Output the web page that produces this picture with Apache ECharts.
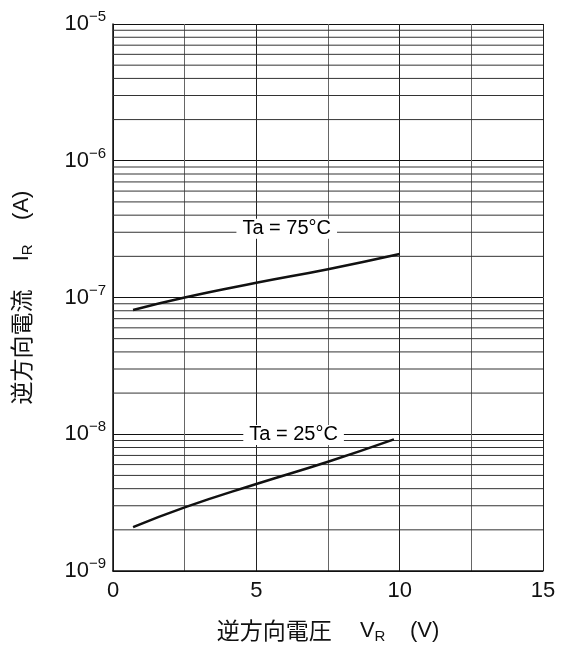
<!DOCTYPE html>
<html>
<head>
<meta charset="utf-8">
<script src="https://cdn.jsdelivr.net/npm/echarts@6/dist/echarts.min.js"></script>
<style>
html,body{margin:0;padding:0;background:#fff;}
#c{width:567px;height:653px;}
</style>
</head>
<body>
<div id="c"></div>
<script>
// X axis (reverse voltage, V)
const xTicks = [0, 5, 10, 15];
const xRange = [0, 15];
// Y axis decades (reverse current, A)
const yDecades = [1e-9, 1e-8, 1e-7, 1e-6, 1e-5];
// Curves: [V_R, I_R]
const vr75 = [0.7, 2.5, 5, 7.5, 10];
const ir75 = [8.1e-8, 1.0e-7, 1.28e-7, 1.61e-7, 2.08e-7];
const vr25 = [0.7, 2.5, 5, 7.5, 9.8];
const ir25 = [2.09e-9, 2.92e-9, 4.33e-9, 6.3e-9, 9.18e-9];
// Annotations
const labels = ['Ta = 75°C', 'Ta = 25°C'];
const labelX = [6.06, 6.3];
const labelY = [3.18e-7, 9.88e-9];
// Minor grid multipliers within each decade
const minorMult = [2, 3, 4, 5, 6, 7, 8, 9];

const FONT = '"Liberation Sans", Arial, "Noto Sans CJK JP", sans-serif';
const CJK = '"Noto Sans CJK JP", sans-serif';
const INK = '#111';
const zip = (a, b) => a.map((v, i) => [v, b[i]]);

const minorSeries = [];
for (let d = 0; d < yDecades.length - 1; d++) {
  for (const m of minorMult) {
    const v = yDecades[d] * m;
    minorSeries.push({
      type: 'line', silent: true, showSymbol: false, z: 1,
      lineStyle: { color: '#333', width: 1 },
      emphasis: { disabled: true },
      data: [[xRange[0], v], [xRange[1], v]]
    });
  }
}
const titleRich = {
  c: { fontSize: 23, fontFamily: CJK, color: INK },
  v: { fontSize: 22, fontFamily: FONT, color: INK },
  sub: { fontSize: 15, fontFamily: FONT, color: INK, padding: [12, 0, 0, 0] }
};

const chart = echarts.init(document.getElementById('c'));
chart.setOption({
  animation: false,
  backgroundColor: '#fff',
  textStyle: { fontFamily: FONT },
  grid: { left: 113, right: 24, top: 24, bottom: 82 },
  xAxis: {
    type: 'value', min: 0, max: 15, interval: 2.5,
    axisLine: { show: true, lineStyle: { color: INK, width: 1.5 } },
    axisTick: { show: false },
    axisLabel: {
      color: INK, fontSize: 22, margin: 9, fontFamily: FONT,
      formatter: v => (xTicks.indexOf(v) >= 0 ? String(v) : '')
    },
    splitLine: { show: true, lineStyle: { color: ['#222', '#666'], width: 1 } },
    name: '{c|逆方向電圧　 }{v|V}{sub|R}{v|    (V)}',
    nameLocation: 'middle', nameGap: 46,
    nameTextStyle: { color: INK, fontSize: 22, fontFamily: FONT, rich: titleRich }
  },
  yAxis: {
    type: 'log', logBase: 10, min: 1e-9, max: 1e-5,
    axisLine: { show: true, lineStyle: { color: INK, width: 1.5 } },
    axisTick: { show: false },
    axisLabel: {
      margin: 7,
      formatter: v => {
        const e = Math.round(Math.log10(v));
        return '{b|10}{s|−' + Math.abs(e) + '}';
      },
      rich: {
        b: { fontSize: 22, fontFamily: FONT, color: INK },
        s: { fontSize: 15, fontFamily: FONT, color: INK, padding: [0, 0, 14, 0] }
      }
    },
    splitLine: { show: true, lineStyle: { color: '#111', width: 1 } },
    name: '{c|逆方向電流　 }{v|I}{sub|R}{v|    (A)}',
    nameLocation: 'middle', nameGap: 78, nameRotate: 90,
    nameTextStyle: { color: INK, fontSize: 22, fontFamily: FONT, rich: titleRich }
  },
  series: minorSeries.concat([
    {
      type: 'line', smooth: 0.5, showSymbol: false, z: 3,
      lineStyle: { color: '#111', width: 2.5 },
      data: zip(vr75, ir75)
    },
    {
      type: 'line', smooth: 0.5, showSymbol: false, z: 3,
      lineStyle: { color: '#111', width: 2.5 },
      data: zip(vr25, ir25)
    },
    {
      type: 'scatter', symbolSize: 1, z: 6, silent: true,
      itemStyle: { color: '#fff', opacity: 0 },
      data: labels.map((t, i) => ({ value: [labelX[i], labelY[i]], name: t })),
      label: {
        show: true, position: 'inside', formatter: p => p.name,
        fontSize: 20, fontFamily: FONT, color: '#000', opacity: 1,
        textBorderWidth: 0, textBorderColor: 'transparent',
        backgroundColor: '#fff', padding: [0, 6, 0, 6]
      }
    }
  ])
});
</script>
</body>
</html>
